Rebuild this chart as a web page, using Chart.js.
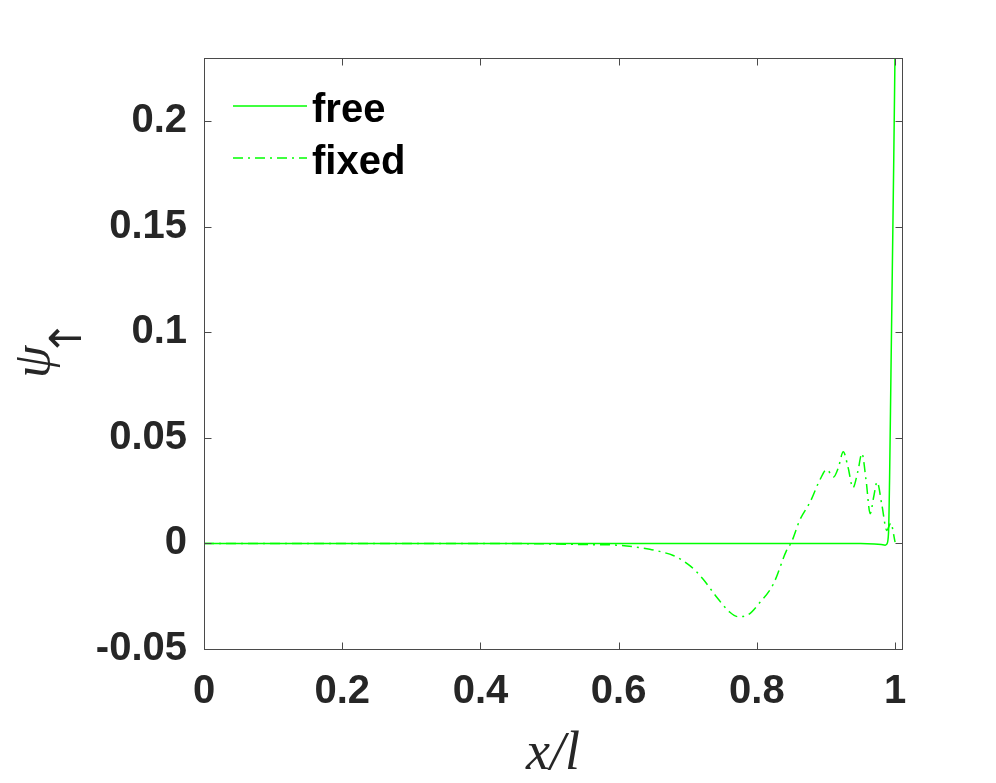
<!DOCTYPE html>
<html>
<head>
<meta charset="utf-8">
<script src="https://cdn.jsdelivr.net/npm/chart.js@4.4.0/dist/chart.umd.min.js"></script>
<style>
  html, body { margin: 0; padding: 0; background: #fff; }
  #wrap { width: 996px; height: 783px; }
</style>
</head>
<body>
<div id="wrap"><canvas id="myChart" width="996" height="783"></canvas></div>
<script>
// datos
var seriesNames = ['free', 'fixed'];

var freeX = [0, 0.2, 0.4, 0.6, 0.8, 0.9, 0.95, 0.97, 0.98, 0.9855, 0.988, 0.9905, 0.992, 0.994, 0.996, 0.998, 1.0];
var freeY = [0, 0, 0, 0, 0, 0, 0, -0.0002, -0.0005, -0.0008, -0.0003, 0.005, 0.03, 0.08, 0.13, 0.18, 0.235];

var fixedX = [0, 0.1, 0.2, 0.3, 0.4, 0.5, 0.55, 0.597, 0.62, 0.645, 0.662, 0.679, 0.703, 0.722, 0.742, 0.761, 0.773, 0.785,
              0.8045, 0.824, 0.843, 0.85, 0.862, 0.877, 0.891, 0.901, 0.911, 0.918, 0.925, 0.932, 0.939, 0.946, 0.952,
              0.958, 0.964, 0.969, 0.974, 0.981, 0.988, 0.9937, 1.0];
var fixedY = [0, 0, 0, 0, 0, -0.0002, -0.0005, -0.0008, -0.0015, -0.0027, -0.004, -0.0057, -0.0105, -0.0168, -0.0255, -0.0326, -0.0347, -0.0342,
              -0.0279, -0.0191, -0.0033, 0.0006, 0.011, 0.0196, 0.030, 0.035, 0.0315, 0.036, 0.0434, 0.036, 0.0264, 0.034, 0.0426,
              0.030, 0.0141, 0.022, 0.0291, 0.018, 0.0062, 0.0096, 0.0006];

var xTicks = [0, 0.2, 0.4, 0.6, 0.8, 1];
var xTickLabels = ['0', '0.2', '0.4', '0.6', '0.8', '1'];
var yTicks = [-0.05, 0, 0.05, 0.1, 0.15, 0.2];
var yTickLabels = ['-0.05', '0', '0.05', '0.1', '0.15', '0.2'];

var xMin = 0, xMax = 1.01;
var yMin = -0.05, yMax = 0.23;

function toPoints(xs, ys) {
  var pts = [];
  for (var i = 0; i < xs.length; i++) {
    pts.push({ x: xs[i], y: ys[i] });
  }
  return pts;
}

var green = '#00ff00';
var axisColor = '#4a4a4a';
var labelFont = { family: 'Liberation Sans', size: 40, weight: 'bold' };

// caja con marcas hacia dentro (estilo matlab)
var boxPlugin = {
  id: 'boxPlugin',
  afterDatasetsDraw: function (chart) {
    var ctx = chart.ctx;
    var a = chart.chartArea;
    var tl = 7;
    ctx.save();
    ctx.strokeStyle = axisColor;
    ctx.lineWidth = 1;
    var l = Math.round(a.left) + 0.5, r = Math.round(a.right) + 0.5;
    var t = Math.round(a.top) + 0.5, b = Math.round(a.bottom) + 0.5;
    ctx.strokeRect(l, t, r - l, b - t);
    ctx.beginPath();
    chart.scales.x.ticks.forEach(function (tk) {
      var px = Math.round(chart.scales.x.getPixelForValue(tk.value)) + 0.5;
      ctx.moveTo(px, b); ctx.lineTo(px, b - tl);
      ctx.moveTo(px, t); ctx.lineTo(px, t + tl);
    });
    chart.scales.y.ticks.forEach(function (tk) {
      var py = Math.round(chart.scales.y.getPixelForValue(tk.value)) + 0.5;
      ctx.moveTo(l, py); ctx.lineTo(l + tl, py);
      ctx.moveTo(r, py); ctx.lineTo(r - tl, py);
    });
    ctx.stroke();
    ctx.restore();
  }
};

// leyenda dentro del area, sin caja
var legendPlugin = {
  id: 'legendPlugin',
  afterDraw: function (chart) {
    var ctx = chart.ctx;
    var a = chart.chartArea;
    ctx.save();
    chart.data.datasets.forEach(function (ds, i) {
      var y = a.top + 48 + i * 52;
      ctx.strokeStyle = ds.borderColor;
      ctx.lineWidth = ds.borderWidth;
      ctx.setLineDash(ds.borderDash || []);
      ctx.beginPath();
      ctx.moveTo(a.left + 29, y);
      ctx.lineTo(a.left + 103, y);
      ctx.stroke();
      ctx.setLineDash([]);
      ctx.fillStyle = '#000';
      ctx.font = 'bold 40px "Liberation Sans"';
      ctx.textBaseline = 'middle';
      ctx.textAlign = 'left';
      ctx.fillText(ds.label, a.left + 108, y + 5);
    });
    ctx.restore();
  }
};

// titulos de ejes (x/l y psi con flecha)
var titlePlugin = {
  id: 'titlePlugin',
  afterDraw: function (chart) {
    var ctx = chart.ctx;
    var a = chart.chartArea;
    ctx.save();
    ctx.fillStyle = '#262626';
    ctx.textAlign = 'center';
    ctx.textBaseline = 'alphabetic';
    ctx.font = 'italic 54px "Liberation Serif"';
    ctx.fillText('x/l', (a.left + a.right) / 2, 769);

    ctx.translate(44, 361);
    ctx.rotate(-Math.PI / 2);
    ctx.textAlign = 'left';
    ctx.font = 'italic 52px "Liberation Serif"';
    ctx.fillText('\u03c8', -17, 5);
    ctx.textAlign = 'center';
    ctx.font = '44px "DejaVu Sans"';
    ctx.fillText('\u2191', 23, 37);
    ctx.restore();
  }
};

var ctx = document.getElementById('myChart').getContext('2d');
var myChart = new Chart(ctx, {
  type: 'line',
  data: {
    datasets: [{
      label: seriesNames[0],
      data: toPoints(freeX, freeY),
      borderColor: green,
      borderWidth: 1.5,
      pointRadius: 0,
      cubicInterpolationMode: 'monotone',
      fill: false
    }, {
      label: seriesNames[1],
      data: toPoints(fixedX, fixedY),
      borderColor: green,
      borderWidth: 1.5,
      borderDash: [10, 5, 2, 5],
      pointRadius: 0,
      cubicInterpolationMode: 'monotone',
      fill: false
    }]
  },
  options: {
    responsive: false,
    animation: false,
    layout: { padding: { top: 58, right: 94, left: 0, bottom: 0 } },
    plugins: { legend: { display: false }, tooltip: { enabled: false } },
    scales: {
      x: {
        type: 'linear',
        min: xMin,
        max: xMax,
        grid: { display: false, drawTicks: false },
        border: { display: false },
        afterBuildTicks: function (scale) {
          scale.ticks = xTicks.map(function (v) { return { value: v }; });
        },
        afterFit: function (scale) { scale.height = 134; },
        ticks: {
          padding: 19,
          color: '#262626',
          font: labelFont,
          maxRotation: 0,
          autoSkip: false,
          callback: function (v) { return xTickLabels[xTicks.indexOf(v)]; }
        }
      },
      y: {
        type: 'linear',
        min: yMin,
        max: yMax,
        grid: { display: false, drawTicks: false },
        border: { display: false },
        afterBuildTicks: function (scale) {
          scale.ticks = yTicks.map(function (v) { return { value: v }; });
        },
        afterFit: function (scale) { scale.width = 204; },
        ticks: {
          padding: 17,
          color: '#262626',
          font: labelFont,
          autoSkip: false,
          callback: function (v) { return yTickLabels[yTicks.indexOf(v)]; }
        }
      }
    }
  },
  plugins: [boxPlugin, legendPlugin, titlePlugin]
});
</script>
</body>
</html>
